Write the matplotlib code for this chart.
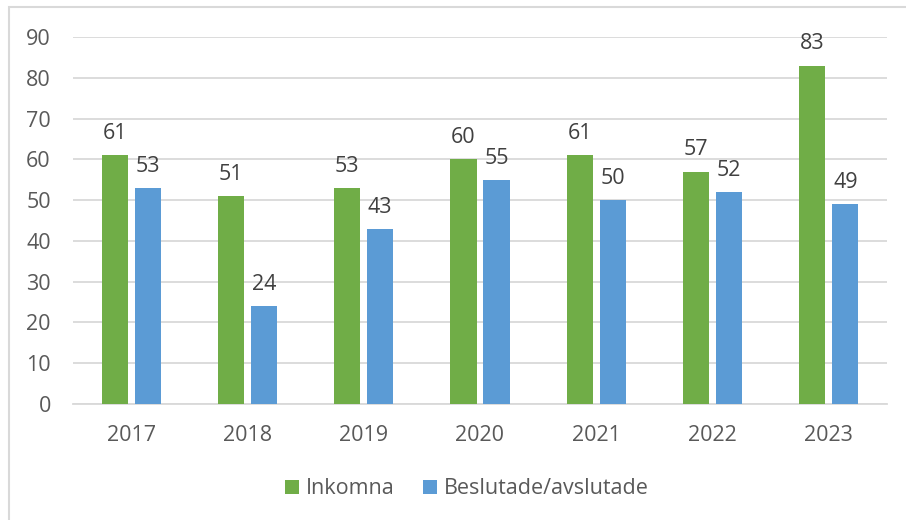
import matplotlib.pyplot as plt
import matplotlib.patches as mpatches
import numpy as np

# data
years = ["2017", "2018", "2019", "2020", "2021", "2022", "2023"]
inkomna = [61, 51, 53, 60, 61, 57, 83]
beslutade = [53, 24, 43, 55, 50, 52, 49]

GREEN = "#70AD47"
BLUE = "#5B9BD5"
TEXT = "#595959"
GRID = "#D9D9D9"
FS = 15.5

plt.rcParams['font.family'] = ['Open Sans', 'DejaVu Sans']

fig = plt.figure(figsize=(9.06, 5.20), dpi=100)
ax = fig.add_axes([73 / 906, 1 - 404 / 520, (887 - 73) / 906, (404 - 37) / 520])

x = np.arange(len(years))
w = 0.224
off = 0.142
b1 = ax.bar(x - off, inkomna, w, color=GREEN, label="Inkomna", zorder=3)
b2 = ax.bar(x + off, beslutade, w, color=BLUE, label="Beslutade/avslutade", zorder=3)

for bars in (b1, b2):
    for r in bars:
        ax.annotate(f"{int(r.get_height())}", (r.get_x() + r.get_width() / 2, r.get_height()),
                    xytext=(0, 8), textcoords="offset points", ha="center", va="bottom",
                    fontsize=FS, color="#404040")

ax.set_xlim(-0.5, len(years) - 0.5)
ax.set_ylim(0, 90)
ax.set_yticks(range(0, 91, 10))
ax.set_xticks(x)
ax.set_xticklabels(years)
ax.tick_params(axis="both", length=0, labelsize=FS, labelcolor=TEXT)
ax.tick_params(axis="y", pad=16)
ax.tick_params(axis="x", pad=15)
ax.grid(axis="y", color=GRID, linewidth=1.3, zorder=0)
for s in ("top", "right", "left"):
    ax.spines[s].set_visible(False)
ax.spines["bottom"].set_color(GRID)
ax.spines["bottom"].set_linewidth(1.3)

ax.legend(loc="center", bbox_to_anchor=(467 / 906, 1 - 489 / 520), bbox_transform=fig.transFigure,
          ncol=2, frameon=False, fontsize=FS, labelcolor=TEXT, handlelength=0.65,
          handleheight=0.65, handletextpad=0.3, columnspacing=1.35)

# chart border
fig.patches.append(mpatches.Rectangle((9 / 906, -0.05), 1.1, 1 - 7 / 520 + 0.05,
                                      transform=fig.transFigure, fill=False,
                                      edgecolor=GRID, linewidth=1.5))

fig.savefig("out.png", dpi=100)
